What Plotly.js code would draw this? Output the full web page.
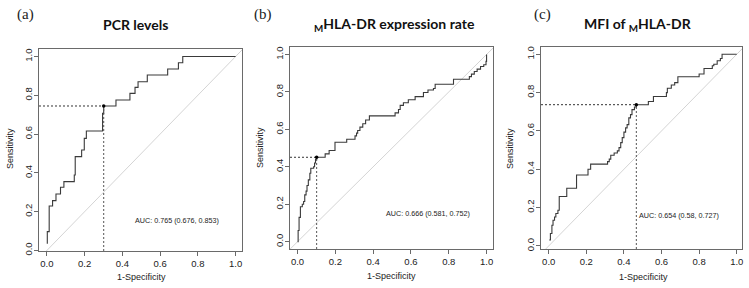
<!DOCTYPE html>
<html><head><meta charset="utf-8">
<script src="https://cdn.plot.ly/plotly-3.0.1.min.js"></script>
<style>html,body{margin:0;padding:0;background:#fff}#chart{width:749px;height:288px}</style>
</head><body><div id="chart"></div>
<script>
// ---------- data ----------
const panelLetters = ['(a)', '(b)', '(c)'];
const panelTitles = ['PCR levels', '<sub>M</sub>HLA-DR expression rate', 'MFI of <sub>M</sub>HLA-DR'];
const aucLabels = ['AUC: 0.765 (0.676, 0.853)', 'AUC: 0.666 (0.581, 0.752)', 'AUC: 0.654 (0.58, 0.727)'];
const xAxisLabel = '1-Specificity';
const yAxisLabel = 'Sensitivity';
const tickVals = [0, 0.2, 0.4, 0.6, 0.8, 1.0];
const tickText = ['0.0', '0.2', '0.4', '0.6', '0.8', '1.0'];

// (a) PCR levels ROC points (1-specificity, sensitivity)
const fprA = [0.002, 0.002, 0.012, 0.030, 0.048, 0.072, 0.090, 0.145, 0.150, 0.184, 0.198, 0.209, 0.295, 0.301, 0.366, 0.440, 0.467, 0.483, 0.532, 0.640, 0.697, 0.720, 1.0];
const tprA = [0.035, 0.097, 0.229, 0.257, 0.291, 0.326, 0.355, 0.389, 0.484, 0.518, 0.578, 0.616, 0.707, 0.745, 0.776, 0.810, 0.841, 0.870, 0.905, 0.936, 0.968, 1.0, 1.0];

// (b) mHLA-DR expression rate
const fprB = [0, 0.003, 0.008, 0.015, 0.025, 0.032, 0.038, 0.045, 0.050, 0.057, 0.065, 0.070, 0.085, 0.090, 0.095, 0.101, 0.146, 0.167, 0.198, 0.260, 0.304, 0.312, 0.318, 0.330, 0.345, 0.360, 0.380, 0.516, 0.534, 0.543, 0.560, 0.586, 0.622, 0.666, 0.690, 0.719, 0.728, 0.825, 0.909, 0.920, 0.935, 0.950, 0.968, 0.985, 0.997, 1.0];
const tprB = [0, 0.060, 0.130, 0.187, 0.200, 0.215, 0.250, 0.270, 0.300, 0.330, 0.366, 0.392, 0.400, 0.420, 0.440, 0.451, 0.469, 0.487, 0.531, 0.547, 0.565, 0.580, 0.594, 0.612, 0.630, 0.650, 0.672, 0.688, 0.706, 0.728, 0.742, 0.758, 0.775, 0.797, 0.810, 0.818, 0.841, 0.868, 0.882, 0.895, 0.909, 0.922, 0.936, 0.945, 0.963, 1.0];

// (c) MFI of mHLA-DR
const fprC = [0.003, 0.009, 0.017, 0.023, 0.031, 0.038, 0.049, 0.056, 0.096, 0.148, 0.209, 0.223, 0.313, 0.322, 0.330, 0.348, 0.365, 0.374, 0.383, 0.391, 0.400, 0.409, 0.417, 0.426, 0.435, 0.443, 0.456, 0.466, 0.530, 0.557, 0.626, 0.631, 0.652, 0.670, 0.687, 0.800, 0.826, 0.870, 0.878, 0.896, 0.913, 0.922, 1.0];
const tprC = [0.031, 0.065, 0.108, 0.134, 0.151, 0.169, 0.186, 0.258, 0.301, 0.370, 0.400, 0.427, 0.440, 0.453, 0.473, 0.485, 0.496, 0.513, 0.539, 0.565, 0.594, 0.616, 0.633, 0.668, 0.685, 0.711, 0.725, 0.737, 0.754, 0.780, 0.800, 0.823, 0.840, 0.852, 0.883, 0.897, 0.926, 0.940, 0.948, 0.966, 0.978, 1.0, 1.0];

// best thresholds
const thrFpr = [0.301, 0.101, 0.466];
const thrTpr = [0.745, 0.451, 0.737];

// chance line
const chanceLine = [-0.1, 1.1];

// ---------- layout geometry (pixels) ----------
const W = 749, H = 288;
const frames = [
  {l: 39, r: 242, t: 49, b: 251, xr: [-0.042, 1.034], yr: [-0.003, 1.039], letter: [25, 14], title: [135.5, 24], ylab: [10, 149], xlab: [141, 277], auc: [0.688, 0.155, 'center']},
  {l: 290, r: 493, t: 47, b: 249, xr: [-0.040, 1.034], yr: [-0.039, 1.040], letter: [263, 14], title: [394, 24], ylab: [260, 148], xlab: [392, 276], auc: [0.690, 0.152, 'center']},
  {l: 541, r: 742, t: 47, b: 249, xr: [-0.041, 1.028], yr: [-0.016, 1.038], letter: [542.5, 14], title: [637.7, 24], ylab: [510, 148], xlab: [643, 277], auc: [0.469, 0.158, 'left']}
];
const px = x => x / W;
const py = y => 1 - y / H;

const fprs = [fprA, fprB, fprC];
const tprs = [tprA, tprB, tprC];

const traces = [];
const layout = {
  width: W, height: H,
  margin: {l: 0, r: 0, t: 0, b: 0},
  paper_bgcolor: '#fff', plot_bgcolor: '#fff',
  showlegend: false,
  hovermode: false,
  annotations: []
};

const tickFont = {family: 'Liberation Sans, Arial, sans-serif', size: 9.5, color: '#222'};

frames.forEach((f, i) => {
  const xa = i === 0 ? 'x' : 'x' + (i + 1);
  const ya = i === 0 ? 'y' : 'y' + (i + 1);
  const xk = i === 0 ? 'xaxis' : 'xaxis' + (i + 1);
  const yk = i === 0 ? 'yaxis' : 'yaxis' + (i + 1);
  const common = {
    showgrid: false, zeroline: false, showline: true, mirror: true,
    linecolor: '#6a6a6a', linewidth: 1,
    ticks: 'outside', ticklen: 4, tickwidth: 1, tickcolor: '#6a6a6a',
    tickvals: tickVals, ticktext: tickText, tickfont: tickFont,
    fixedrange: true
  };
  layout[xk] = Object.assign({}, common, {domain: [px(f.l), px(f.r)], range: f.xr, anchor: ya});
  layout[yk] = Object.assign({}, common, {domain: [py(f.b), py(f.t)], range: f.yr, anchor: xa, tickangle: -90, ticklabelstandoff: -2});

  // chance diagonal
  traces.push({x: chanceLine, y: chanceLine, xaxis: xa, yaxis: ya, mode: 'lines', type: 'scatter',
    line: {color: '#d4d4d4', width: 1}});
  // ROC curve
  traces.push({x: fprs[i], y: tprs[i], xaxis: xa, yaxis: ya, mode: 'lines', type: 'scatter',
    line: {color: '#3a3a3a', width: 1.1, shape: 'hv'}});
  // threshold guide lines
  traces.push({x: [f.xr[0], thrFpr[i]], y: [thrTpr[i], thrTpr[i]], xaxis: xa, yaxis: ya, mode: 'lines', type: 'scatter',
    line: {color: '#333', width: 1, dash: '2px,2px'}});
  traces.push({x: [thrFpr[i], thrFpr[i]], y: [f.yr[0], thrTpr[i]], xaxis: xa, yaxis: ya, mode: 'lines', type: 'scatter',
    line: {color: '#555', width: 1, dash: '2px,2px'}});
  // threshold point
  traces.push({x: [thrFpr[i]], y: [thrTpr[i]], xaxis: xa, yaxis: ya, mode: 'markers', type: 'scatter',
    marker: {color: '#000', size: 3.5}});

  // annotations
  layout.annotations.push({xref: 'paper', yref: 'paper', x: px(f.letter[0]), y: py(f.letter[1]), text: panelLetters[i],
    showarrow: false, xanchor: 'center', yanchor: 'middle',
    font: {family: 'Liberation Serif, DejaVu Serif, serif', size: 15, color: '#222'}});
  layout.annotations.push({xref: 'paper', yref: 'paper', x: px(f.title[0]), y: py(f.title[1]), text: '<b>' + panelTitles[i] + '</b>',
    showarrow: false, xanchor: 'center', yanchor: 'middle',
    font: {family: 'Lato, Open Sans, sans-serif', size: 14, color: '#111'}});
  layout.annotations.push({xref: 'paper', yref: 'paper', x: px(f.ylab[0]), y: py(f.ylab[1]), text: yAxisLabel,
    showarrow: false, xanchor: 'center', yanchor: 'middle', textangle: -90,
    font: {family: 'Liberation Sans, Arial, sans-serif', size: 9, color: '#222'}});
  layout.annotations.push({xref: 'paper', yref: 'paper', x: px(f.xlab[0]), y: py(f.xlab[1]), text: xAxisLabel,
    showarrow: false, xanchor: 'center', yanchor: 'middle',
    font: {family: 'Liberation Sans, Arial, sans-serif', size: 9, color: '#222'}});
  layout.annotations.push({xref: xa, yref: ya, x: f.auc[0], y: f.auc[1], text: aucLabels[i],
    showarrow: false, xanchor: f.auc[2], yanchor: 'middle',
    font: {family: 'Liberation Sans, Arial, sans-serif', size: 7.2, color: '#222'}});
});

Plotly.newPlot('chart', traces, layout, {staticPlot: true, displayModeBar: false});
</script>
</body></html>
